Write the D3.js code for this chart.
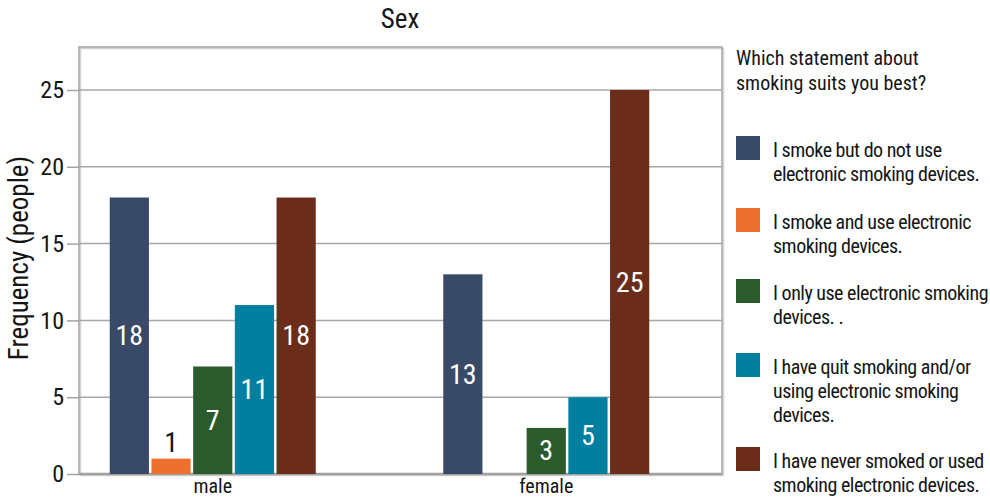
<!DOCTYPE html>
<html>
<head>
<meta charset="utf-8">
<script src="https://cdn.jsdelivr.net/npm/d3@7"></script>
<style>
  html, body { margin: 0; padding: 0; background: #fff; }
  svg { display: block; }
  text { font-family: "Roboto Condensed", "Liberation Sans Narrow", "Roboto", sans-serif; }
</style>
</head>
<body>
<svg id="chart" width="990" height="499"></svg>
<script>
// Survey answers by sex
const groups = ["male", "female"];
const series = [
  "I smoke but do not use electronic smoking devices.",
  "I smoke and use electronic smoking devices.",
  "I only use electronic smoking devices. .",
  "I have quit smoking and/or using electronic smoking devices.",
  "I have never smoked or used smoking electronic devices."
];
const legendLines = [
  ["I smoke but do not use", "electronic smoking devices."],
  ["I smoke and use electronic", "smoking devices."],
  ["I only use electronic smoking", "devices. ."],
  ["I have quit smoking and/or", "using electronic smoking", "devices."],
  ["I have never smoked or used", "smoking electronic devices."]
];
const maleValues = [18, 1, 7, 11, 18];
const femaleValues = [13, 0, 3, 5, 25];
const colors = ["#394a69", "#ed7031", "#2b5b2c", "#017fa1", "#6b2d1a"];
const yTicks = [0, 5, 10, 15, 20, 25];
const chartTitle = "Sex";
const yTitle = "Frequency (people)";
const legendTitle = ["Which statement about", "smoking suits you best?"];

const valuesByGroup = { male: maleValues, female: femaleValues };
const ink = "#151515";

const svg = d3.select("#chart");
const plot = { left: 79, right: 722, top: 47, bottom: 474 };

const y = d3.scaleLinear().domain([0, 27.8]).range([plot.bottom, plot.top]);
const x0 = d3.scaleBand().domain(groups).range([46, 713]).padding(0);
const groupWidth = 206;
const x1 = d3.scaleBand().domain(series).range([0, groupWidth]).paddingInner(0.06);
const color = d3.scaleOrdinal().domain(series).range(colors);

// frame shadow
svg.append("rect")
  .attr("x", plot.left + 1.5).attr("y", plot.top + 1.5)
  .attr("width", plot.right - plot.left).attr("height", plot.bottom - plot.top)
  .attr("fill", "none").attr("stroke", "#d4d4d4").attr("stroke-width", 1.5);

// gridlines + ticks
const yAxis = d3.axisLeft(y).tickValues(yTicks).tickSize(12).tickPadding(3);
const gAxis = svg.append("g").attr("transform", `translate(${plot.left},0)`).call(yAxis);
gAxis.select(".domain").remove();
gAxis.selectAll(".tick line").attr("stroke", "#a3a3a3").attr("stroke-width", 1.5);
gAxis.selectAll(".tick text").style("font-size", "24px").style("fill", ink)
  .style("font-family", "\"Roboto Condensed\", \"Liberation Sans Narrow\", Roboto, sans-serif");

svg.append("g").selectAll("line").data(yTicks).join("line")
  .attr("x1", plot.left).attr("x2", plot.right)
  .attr("y1", d => y(d)).attr("y2", d => y(d))
  .attr("stroke", d => d === 0 ? "#9a9a9a" : "#a8a8a8")
  .attr("stroke-width", d => d === 0 ? 2.5 : 1.5);

// frame
svg.append("rect")
  .attr("x", plot.left).attr("y", plot.top)
  .attr("width", plot.right - plot.left).attr("height", plot.bottom - plot.top)
  .attr("fill", "none").attr("stroke", "#a3a3a3").attr("stroke-width", 1.5);

// bars
const gGroups = svg.append("g").selectAll("g").data(groups).join("g")
  .attr("transform", g => `translate(${x0(g) + x0.bandwidth() / 2 - groupWidth / 2},0)`);

const cells = gGroups.selectAll("g.cell")
  .data(g => series.map((s, i) => ({ s, v: valuesByGroup[g][i] })))
  .join("g").attr("class", "cell");

cells.filter(d => d.v > 0).append("rect")
  .attr("x", d => x1(d.s)).attr("width", x1.bandwidth())
  .attr("y", d => y(d.v)).attr("height", d => y(0) - y(d.v))
  .attr("fill", d => color(d.s));

// value labels: inside tall bars, above short ones
const tall = d => (y(0) - y(d.v)) > 34;
cells.filter(d => d.v > 0).append("text")
  .attr("x", d => x1(d.s) + x1.bandwidth() / 2)
  .attr("y", d => tall(d) ? (y(d.v) + y(0)) / 2 : y(d.v) - 16)
  .attr("text-anchor", "middle").attr("dominant-baseline", "central")
  .style("font-size", "28px")
  .style("fill", d => tall(d) ? "#fff" : ink)
  .text(d => d.v);

// category labels
svg.append("g").selectAll("text").data(groups).join("text")
  .attr("x", g => x0(g) + x0.bandwidth() / 2).attr("y", 493)
  .attr("text-anchor", "middle").style("font-size", "20px").style("fill", ink)
  .text(g => g);

// titles
svg.append("text").attr("x", 400).attr("y", 28).attr("text-anchor", "middle")
  .style("font-size", "27px").style("fill", ink).text(chartTitle);

svg.append("text").attr("transform", "translate(28,258) rotate(-90)")
  .attr("text-anchor", "middle").style("font-size", "27px").style("fill", ink).text(yTitle);

// legend
const lg = svg.append("g").attr("transform", "translate(736,0)");
lg.selectAll("text.lt").data(legendTitle).join("text").attr("class", "lt")
  .attr("x", 0).attr("y", (d, i) => 65 + i * 25)
  .style("font-size", "20px").style("fill", ink).text(d => d);

const itemTop = [136, 208, 279, 353, 447];
const items = lg.selectAll("g.item").data(series).join("g").attr("class", "item")
  .attr("transform", (d, i) => `translate(0,${itemTop[i]})`);
items.append("rect").attr("width", 24).attr("height", 24).attr("fill", d => color(d));
items.selectAll("text").data((d, i) => legendLines[i]).join("text")
  .attr("x", 37).attr("y", (d, i) => 14 + i * 24)
  .attr("dominant-baseline", "central")
  .style("font-size", "20px").style("letter-spacing", "-0.5px").style("fill", ink)
  .text(d => d);
</script>
</body>
</html>
